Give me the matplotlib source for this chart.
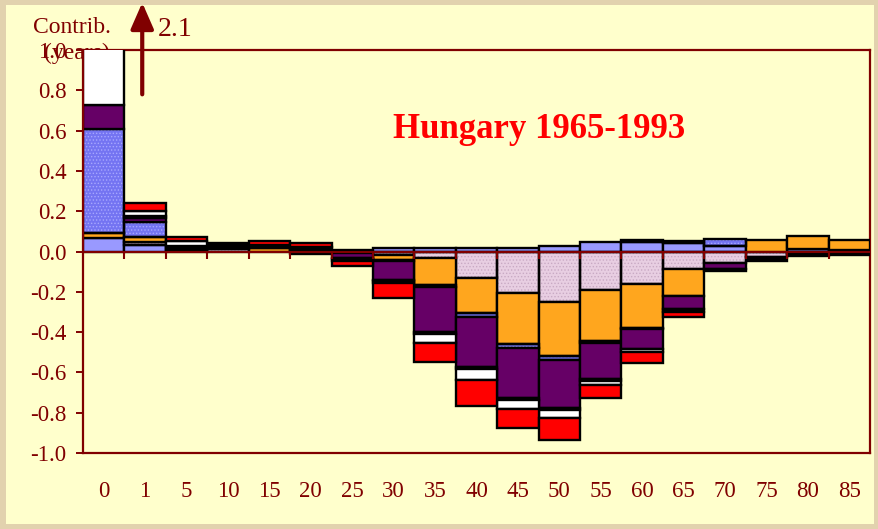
import numpy as np
import matplotlib
matplotlib.use("Agg")
import matplotlib.pyplot as plt
from matplotlib.patches import Rectangle

plt.rcParams["hatch.linewidth"] = 0.6

# Age groups (start of each age interval)
ages = ["0", "1", "5", "10", "15", "20", "25", "30", "35", "40",
        "45", "50", "55", "60", "65", "70", "75", "80", "85"]

# Contributions (years) of each cause group to the change in life expectancy
light_blue = [0.066, 0.030, 0.000, 0.000, 0.000, 0.000, 0.005, 0.015, 0.015, 0.015,
              0.015, 0.025, 0.045, 0.045, 0.040, 0.028, 0.000, 0.010, 0.008]
pink = [0.000, 0.015, 0.000, 0.012, 0.000, -0.004, -0.005, -0.015, -0.030, -0.130,
        -0.205, -0.250, -0.190, -0.160, -0.085, -0.057, -0.025, -0.012, -0.010]
orange = [0.025, 0.025, 0.000, 0.000, 0.015, 0.008, 0.000, -0.025, -0.135, -0.175,
          -0.255, -0.270, -0.255, -0.220, -0.135, 0.000, 0.055, 0.068, 0.048]
blue_dotted = [0.516, 0.075, 0.005, 0.000, 0.000, 0.000, 0.000, -0.005, -0.010, -0.020,
               -0.020, -0.020, -0.010, -0.005, 0.010, 0.032, 0.000, 0.000, 0.000]
purple = [0.120, 0.020, 0.010, 0.000, 0.000, -0.006, -0.028, -0.095, -0.225, -0.250,
          -0.245, -0.235, -0.180, -0.100, -0.065, -0.030, 0.000, 0.000, 0.000]
black = [0.000, 0.010, 0.010, 0.028, 0.015, 0.012, -0.005, -0.005, -0.010, -0.010,
         -0.010, -0.010, -0.010, 0.010, -0.015, -0.012, -0.022, -0.010, -0.008]
white = [1.373, 0.025, 0.025, 0.000, 0.000, 0.000, -0.010, -0.012, -0.045, -0.055,
         -0.045, -0.040, -0.020, -0.015, 0.000, 0.000, 0.000, 0.000, 0.000]
red = [0.000, 0.040, 0.020, 0.000, 0.020, 0.020, -0.025, -0.075, -0.095, -0.125,
       -0.095, -0.110, -0.060, -0.052, -0.025, 0.000, 0.000, 0.000, 0.000]

series = [
    (light_blue, "#9999FF", None, None),
    (pink, "#E8CEE2", "#C9A9C4", "....."),
    (orange, "#FFA61E", None, None),
    (blue_dotted, "#7474F2", "#A8A8FF", "....."),
    (purple, "#660066", None, None),
    (black, "#000000", None, None),
    (white, "#FFFFFF", None, None),
    (red, "#FF0000", None, None),
]

dark_red = "#800000"
serif = ["Liberation Serif", "DejaVu Serif"]

fig = plt.figure(figsize=(8.79, 5.29), dpi=100)
fig.patch.set_facecolor("#E2D2AE")
fig.patches.append(Rectangle((6 / 879, 5 / 529), 868 / 879, 519 / 529,
                             transform=fig.transFigure, facecolor="#FFFFCC",
                             edgecolor="none", zorder=-5))

ax = fig.add_axes([83 / 879, 76 / 529, 787 / 879, 403 / 529])
ax.set_facecolor("#FFFFCC")

x = np.arange(len(ages)) + 0.5
pos_base = np.zeros(len(ages))
neg_base = np.zeros(len(ages))
for values, face, hatch_col, hatch in series:
    v = np.asarray(values, dtype=float)
    base = np.where(v >= 0, pos_base, neg_base)
    keep = v != 0
    if hatch:
        ax.bar(x[keep], v[keep], bottom=base[keep], width=1.0, color=face,
               edgecolor=hatch_col, hatch=hatch, linewidth=0, zorder=2)
        ax.bar(x[keep], v[keep], bottom=base[keep], width=1.0, color="none",
               edgecolor="black", linewidth=1.7, zorder=2.1)
    else:
        ax.bar(x[keep], v[keep], bottom=base[keep], width=1.0, color=face,
               edgecolor="black", linewidth=1.7, zorder=2.1)
    pos_base = pos_base + np.where(v > 0, v, 0)
    neg_base = neg_base + np.where(v < 0, v, 0)

ax.set_xlim(0, len(ages))
ax.set_ylim(-1.0, 1.0)

# zero line with boundary ticks between age groups
ax.axhline(0, color=dark_red, linewidth=1.5, zorder=3)
ax.vlines(np.arange(1, len(ages)), 0, -0.035, color=dark_red, linewidth=1.5, zorder=3)

for side in ["left", "right", "top", "bottom"]:
    ax.spines[side].set_color(dark_red)
    ax.spines[side].set_linewidth(1.6)
    ax.spines[side].set_zorder(1.5)
ax.spines["left"].set_zorder(3)

yt = np.round(np.arange(-1.0, 1.01, 0.2), 1)
ax.set_yticks(yt)
ax.set_yticklabels([f"{abs(t):.1f}" if abs(t) < 1e-9 else f"{t:.1f}" for t in yt])
ax.tick_params(axis="y", direction="out", length=5, width=1.4, color=dark_red,
               labelcolor=dark_red, labelsize=16.5, pad=7)
ax.set_xticks(x)
ax.set_xticklabels(ages)
ax.tick_params(axis="x", length=0, labelcolor=dark_red, labelsize=16.5, pad=20)
for lab in ax.get_xticklabels() + ax.get_yticklabels():
    lab.set_fontfamily(serif)

# axis caption and off-scale marker for the first bar
fig.text(33 / 879, 1 - 33 / 529, "Contrib.", color=dark_red, fontsize=17,
         family=serif, ha="left", va="baseline")
ax.text(-0.95, 0.985, "(years)", color=dark_red, fontsize=17, family=serif,
        ha="left", va="center", zorder=1, clip_on=False)
ax.annotate("", xy=(1.43, 1.235), xytext=(1.43, 0.78),
            arrowprops=dict(arrowstyle="-|>,head_length=0.8,head_width=0.35",
                            color=dark_red, lw=3, mutation_scale=20,
                            shrinkA=0, shrinkB=0),
            annotation_clip=False, zorder=4)
ax.text(1.8, 1.10, f"{sum(s[0][0] for s in series):.1f}", color=dark_red,
        fontsize=20, family=serif, ha="left", va="center", clip_on=False)

ax.text(11.0, 0.562, "Hungary 1965-1993", color="#FF0000", fontsize=25,
        fontweight="bold", family=serif, ha="center", va="baseline")

fig.savefig("out.png", dpi=100, facecolor=fig.get_facecolor())
